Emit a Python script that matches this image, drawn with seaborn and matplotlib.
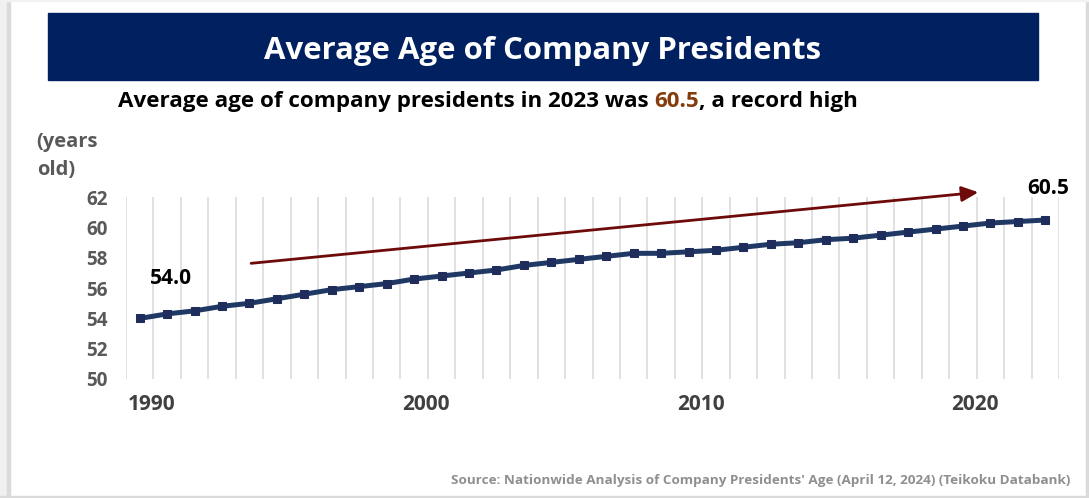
import numpy as np
import pandas as pd
import seaborn as sns
import matplotlib
matplotlib.use("Agg")
import matplotlib.pyplot as plt
from matplotlib.patches import Rectangle, FancyArrowPatch
import matplotlib.transforms as mtransforms

# ---------------- data ----------------
years = list(range(1990, 2024))
ages = [54.0, 54.3, 54.5, 54.8, 55.0, 55.3, 55.6, 55.9, 56.1, 56.3,
        56.6, 56.8, 57.0, 57.2, 57.5, 57.7, 57.9, 58.1, 58.3, 58.3,
        58.4, 58.5, 58.7, 58.9, 59.0, 59.2, 59.3, 59.5, 59.7, 59.9,
        60.1, 60.3, 60.4, 60.5]
x_tick_years = [1990, 2000, 2010, 2020]
x_tick_labels = ["1990", "2000", "2010", "2020"]
y_ticks = [50, 52, 54, 56, 58, 60, 62]
title = "Average Age of Company Presidents"
sub_a = "Average age of company presidents in 2023 was"
sub_b = "60.5"
sub_c = ", a record high"
unit_lines = ["(years", "old)"]
source = "Source: Nationwide Analysis of Company Presidents' Age (April 12, 2024) (Teikoku Databank)"

# ---------------- style ----------------
sns.set_theme(style="white")
plt.rcParams["font.family"] = ["Open Sans", "DejaVu Sans"]

W, H = 1089, 498
fig = plt.figure(figsize=(W / 100, H / 100), dpi=100)
fig.patch.set_facecolor("white")


def fx(x):
    return x / W


def fy(y):
    return 1 - y / H


renderer = fig.canvas.get_renderer()


def fit(t, target_w):
    w = t.get_window_extent(renderer).width
    t.set_fontsize(t.get_fontsize() * target_w / w)


# frame decorations
fig.patches.append(Rectangle((0, 0), fx(7), 1, transform=fig.transFigure, color="#f0f0f0", zorder=0))
fig.patches.append(Rectangle((fx(7), 0), fx(3), 1, transform=fig.transFigure, color="#dadada", zorder=0))
fig.patches.append(Rectangle((fx(1086), 0), fx(3), 1, transform=fig.transFigure, color="#dadada", zorder=0))
fig.patches.append(Rectangle((0, 0), 1, 2.5 / H, transform=fig.transFigure, color="#dadada", zorder=0))
fig.patches.append(Rectangle((0, fy(1.5)), 1, 1.5 / H, transform=fig.transFigure, color="#f2f2f2", zorder=0))

# title banner
fig.patches.append(Rectangle((fx(48), fy(80)), fx(1038 - 48), (80 - 13) / H,
                             transform=fig.transFigure, color="#002060", zorder=1))
t = fig.text(fx(543), fy(59.3), title, color="white", fontweight="bold",
             fontsize=22, ha="center", va="baseline", zorder=2)
fit(t, 555)

# subtitle with colored number
ta = fig.text(fx(118), fy(107.3), sub_a, color="black", fontweight="bold",
              fontsize=15, ha="left", va="baseline")
tb = fig.text(0, fy(107.3), sub_b, color="#843c0c", fontweight="bold",
              fontsize=15, ha="left", va="baseline")
tc = fig.text(0, fy(107.3), sub_c, color="black", fontweight="bold",
              fontsize=15, ha="left", va="baseline")


def layout_sub():
    ea = ta.get_window_extent(renderer)
    tmp1 = fig.text(0, 0, "a b", fontweight="bold", fontsize=ta.get_fontsize())
    tmp2 = fig.text(0, 0, "ab", fontweight="bold", fontsize=ta.get_fontsize())
    sp = tmp1.get_window_extent(renderer).width - tmp2.get_window_extent(renderer).width
    tmp1.remove()
    tmp2.remove()
    tb.set_x((ea.x1 + sp) / W)
    eb = tb.get_window_extent(renderer)
    tc.set_x(eb.x1 / W)
    ec = tc.get_window_extent(renderer)
    return ec.x1 - ea.x0


total = layout_sub()
scale = (859 - 118) / total
for tt in (ta, tb, tc):
    tt.set_fontsize(tt.get_fontsize() * scale)
layout_sub()

# unit label
u1 = fig.text(fx(36.7), fy(146.7), unit_lines[0], color="#595959", fontweight="bold",
              fontsize=15, ha="left", va="baseline")
fit(u1, 61.7)
u2 = fig.text(fx(36.7), fy(175), unit_lines[1], color="#595959", fontweight="bold",
              fontsize=u1.get_fontsize(), ha="left", va="baseline")

# source
s = fig.text(fx(1070), fy(484), source, color="#8f8f8f", fontweight="bold",
             fontsize=10, ha="right", va="baseline")
fit(s, 618)

# ---------------- chart ----------------
ax = fig.add_axes([fx(126), fy(379), (1059 - 126) / W, (379 - 197.3) / H])
ax.set_facecolor("none")
df = pd.DataFrame({"year": years, "age": ages})
sns.lineplot(data=df, x="year", y="age", ax=ax, color="#1f3864", lw=3.6,
             marker="s", markersize=5.5, markeredgecolor="#1f2d5c",
             markerfacecolor="#1f2d5c", zorder=3)
ax.set_xlim(years[0] - 0.5, years[-1] + 0.5)
ax.set_ylim(y_ticks[0], y_ticks[-1])
ax.set_xlabel("")
ax.set_ylabel("")
for sp_ in ax.spines.values():
    sp_.set_visible(False)

ax.set_xticks(np.arange(years[0] - 0.5, years[-1] + 1.0, 1.0), minor=True)
ax.xaxis.grid(True, which="minor", color="#d9d9d9", lw=1.1)
ax.xaxis.grid(False, which="major")
ax.yaxis.grid(False)
ax.set_xticks(x_tick_years)
ax.set_xticklabels(x_tick_labels)
ax.set_yticks(y_ticks)
ax.set_yticklabels([str(v) for v in y_ticks])
ax.tick_params(axis="both", which="both", length=0)
ax.tick_params(axis="x", pad=11, labelsize=15, labelcolor="#404040")
ax.tick_params(axis="y", pad=13, labelsize=13.5, labelcolor="#595959")
for lbl in ax.get_xticklabels() + ax.get_yticklabels():
    lbl.set_fontweight("bold")
off = mtransforms.ScaledTranslation(12 / 100, 0, fig.dpi_scale_trans)
for lbl in ax.get_xticklabels():
    lbl.set_transform(lbl.get_transform() + off)

# trend arrow
arrow = FancyArrowPatch((1994.06, 57.64), (2020.56, 62.33),
                        arrowstyle="-|>,head_length=10,head_width=4.6",
                        mutation_scale=1, lw=2.0, color="#6e0a0a",
                        shrinkA=0, shrinkB=0, transform=ax.transData,
                        clip_on=False, zorder=4)
ax.add_patch(arrow)

# value labels
ax.annotate(f"{ages[0]:.1f}", xy=(years[0], ages[0]), xytext=(22.7, 24.5),
            textcoords="offset points", ha="center", va="baseline",
            fontsize=15, fontweight="bold", color="black", annotation_clip=False)
ax.annotate(f"{ages[-1]:.1f}", xy=(years[-1], ages[-1]), xytext=(1.8, 18.7),
            textcoords="offset points", ha="center", va="baseline",
            fontsize=15, fontweight="bold", color="black", annotation_clip=False)

fig.savefig("out.png", dpi=100, facecolor="white")
